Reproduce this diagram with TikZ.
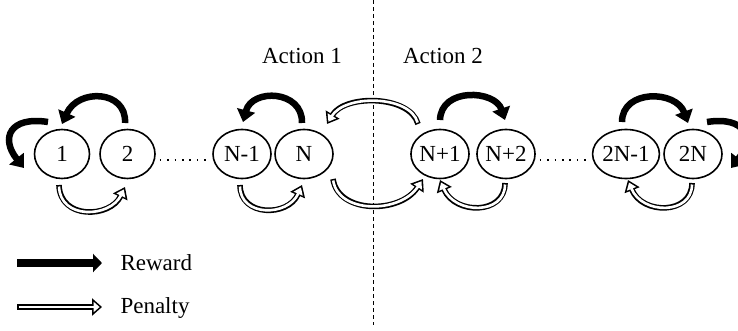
\documentclass[tikz,border=0pt]{standalone}
\usepackage{fontspec}
\setmainfont{Liberation Serif}
\usetikzlibrary{arrows.meta,calc,shapes.geometric}
\begin{document}
\begin{tikzpicture}[x=1pt,y=1pt,
  font=\fontsize{23}{26}\selectfont,
  state/.style={ellipse,draw,line width=1.6pt,minimum width=57pt,minimum height=49pt,inner sep=0pt},
  rew/.style={line width=6.5pt,-{Triangle[length=12pt,width=18pt]}},
  pen/.style={line width=5.6pt,-{Triangle[length=11pt,width=15.5pt]},
    postaction={draw=white,line width=2.6pt,shorten >=2.7pt,shorten <=1.5pt,-{Triangle[length=6.8pt,width=9.5pt]}}},
  penleg/.style={line width=6pt,-{Triangle[length=10pt,width=17pt]},
    postaction={draw=white,line width=2.8pt,shorten >=2.4pt,shorten <=1.6pt,-{Triangle[length=6pt,width=10pt]}}},
  dots/.style={line width=1.6pt,dash pattern=on 1.6pt off 5.8pt},
  sep/.style={line width=0.8pt,dash pattern=on 4pt off 3pt}]
\useasboundingbox (0,0) rectangle (738,330);
\begin{scope}
\clip (0,0) rectangle (738,330);
% states
\node[state,minimum width=55pt] (n1) at (62,176) {1};
\node[state,minimum width=55pt] (n2) at (127.5,176) {2};
\node[state,minimum width=58pt] (nNm) at (242,176) {N-1};
\node[state,minimum width=58pt] (nN) at (304,176) {N};
\node[state,minimum width=58pt] (nNp) at (440,176) {N+1};
\node[state,minimum width=58pt] (nNpp) at (506,176) {N+2};
\node[state,minimum width=61pt] (n2Nm) at (626,176) {2N-1};
\node[state,minimum width=58pt] (n2N) at (693,176) {2N};
% separator
\coordinate (septop) at (373,330);
\coordinate (sepbot) at (373,5);
\draw[sep] (septop) -- (sepbot);
% labels
\node[anchor=base] (a1) at (302,266) {Action 1};
\node[anchor=base] (a2) at (443,266) {Action 2};
% dots
\draw[dots] ([xshift=4pt,yshift=-6pt]n2.east) -- ([xshift=-2pt,yshift=-6pt]nNm.west);
\draw[dots] ([xshift=4pt,yshift=-6pt]nNpp.east) -- ([xshift=-2pt,yshift=-6pt]n2Nm.west);
% reward arcs
\draw[rew] ($(n1)+(-14,32)$) .. controls ($(n1)+(-52,38)$) and ($(n1)+(-62,16)$) .. ($(n1)+(-38,-14)$);
\draw[rew] ($(n2)+(-2.5,31)$) .. controls ($(n2)+(-0.5,64)$) and ($(n2)+(-49.5,66)$) .. ($(n1)+(0,30)$);
\draw[rew] ($(nN)+(-2,31)$) .. controls ($(nN)+(-1,64)$) and ($(nN)+(-52,66)$) .. ($(nNm)+(1,32)$);
\draw[rew] ($(nNp)+(0,34)$) .. controls ($(nNp)+(1,67)$) and ($(nNpp)+(-11,64)$) .. ($(nNpp)+(-1,34)$);
\draw[rew] ($(n2Nm)+(-4,32)$) .. controls ($(n2Nm)+(-4,65)$) and ($(n2N)+(-17,64)$) .. ($(n2N)+(-5,31)$);
\draw[rew] ($(n2N)+(14,32)$) .. controls ($(n2N)+(52,38)$) and ($(n2N)+(62,16)$) .. ($(n2N)+(38,-14)$);
% penalty arcs
\draw[pen] ($(n1)+(-3,-31)$) .. controls ($(n1)+(-2,-66)$) and ($(n2)+(-17.5,-64)$) .. ($(n2)+(-2.5,-33)$);
\draw[pen] ($(nNm)+(-2,-31)$) .. controls ($(nNm)+(-2,-63)$) and ($(nN)+(-16,-63)$) .. ($(nN)+(-2,-31)$);
\draw[pen] ($(nNp)+(-22,30)$) .. controls ($(nNp)+(-30,59)$) and ($(nN)+(41,60)$) .. ($(nN)+(23,30)$);
\draw[pen] ($(nN)+(29,-25)$) .. controls ($(nN)+(34,-60)$) and ($(nNp)+(-40,-60)$) .. ($(nNp)+(-17,-25)$);
\draw[pen] ($(nNpp)+(-1,-29)$) .. controls ($(nNpp)+(-1,-61)$) and ($(nNp)+(15,-61)$) .. ($(nNp)+(0,-26)$);
\draw[pen] ($(n2N)+(-1,-29)$) .. controls ($(n2N)+(-1,-61)$) and ($(n2Nm)+(16,-61)$) .. ($(n2Nm)+(2,-26)$);
\end{scope}
% legend
\coordinate (r0) at (17,67);
\coordinate (r1) at (102,67);
\coordinate (p0) at (17,23);
\coordinate (p1) at (102,23);
\draw[line width=8pt,-{Triangle[length=9pt,width=18pt]}] (r0) -- (r1);
\draw[penleg] (p0) -- (p1);
\node[anchor=base west] (lr) at (117,60) {Reward};
\node[anchor=base west] (lp) at (117,17) {Penalty};
\end{tikzpicture}
\end{document}
